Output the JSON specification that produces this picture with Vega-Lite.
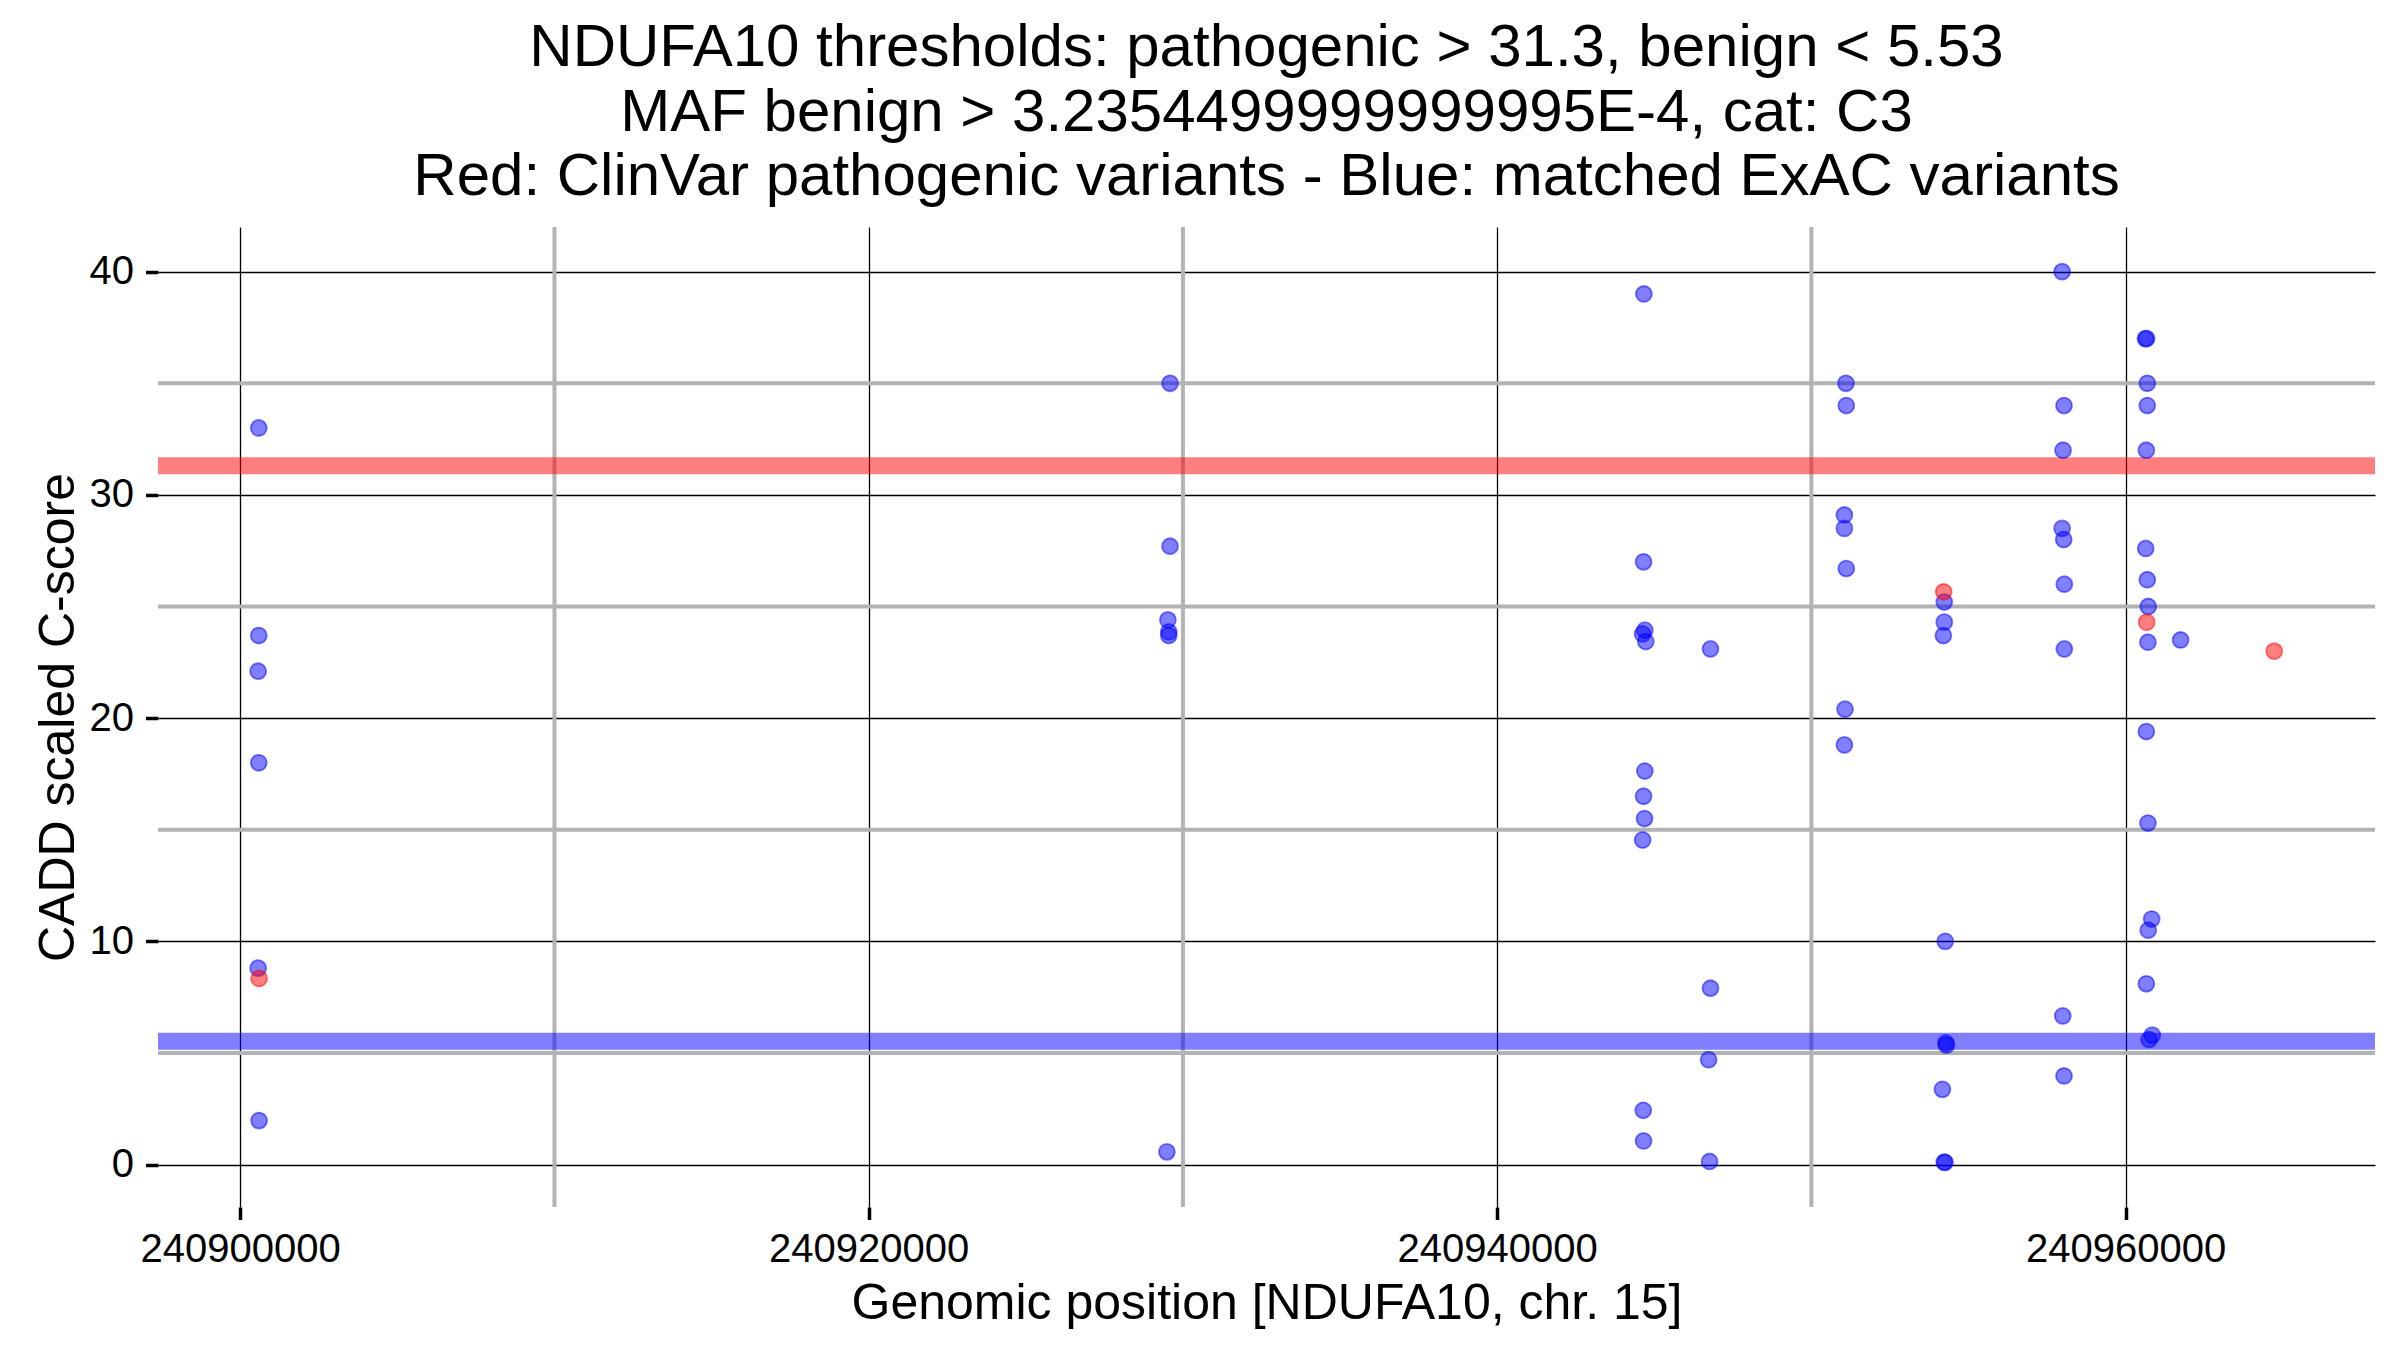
{
  "$schema": "https://vega.github.io/schema/vega-lite/v6.json",
  "width": 2217,
  "height": 980,
  "autosize": {"type": "none"},
  "padding": {"left": 158, "top": 227, "right": 25, "bottom": 143},
  "background": "white",
  "config": {
    "view": {"stroke": null},
    "font": "Liberation Sans",
    "axis": {
      "domain": false,
      "grid": true,
      "gridColor": "black",
      "gridWidth": 1.3,
      "tickColor": "black",
      "tickWidth": 3.5,
      "tickSize": 12.5,
      "labelFont": "Liberation Sans",
      "labelFontSize": 40,
      "labelColor": "black",
      "labelLimit": 0,
      "titleFont": "Liberation Sans",
      "titleFontSize": 50,
      "titleFontWeight": "normal",
      "titleColor": "black",
      "labelFlush": false,
      "labelOverlap": false
    }
  },
  "title": {
    "text": [
      "NDUFA10 thresholds: pathogenic > 31.3, benign < 5.53",
      "MAF benign > 3.2354499999999995E-4, cat: C3",
      "Red: ClinVar pathogenic variants - Blue: matched ExAC variants"
    ],
    "font": "Liberation Sans",
    "fontSize": 60,
    "fontWeight": "normal",
    "color": "black",
    "anchor": "middle",
    "frame": "group",
    "lineHeight": 64.5,
    "offset": 17
  },
  "datasets": {
    "minorx": [{"pos": 240910000}, {"pos": 240930000}, {"pos": 240950000}],
    "minory": [{"score": 5}, {"score": 15}, {"score": 25}, {"score": 35}],
    "thresholds": [
      {"score": 31.3, "kind": "pathogenic"},
      {"score": 5.53, "kind": "benign"}
    ],
    "points": [
      {"pos": 240900590, "score": 33.0, "source": "ExAC"},
      {"pos": 240900590, "score": 23.7, "source": "ExAC"},
      {"pos": 240900570, "score": 22.1, "source": "ExAC"},
      {"pos": 240900590, "score": 18.0, "source": "ExAC"},
      {"pos": 240900570, "score": 8.8, "source": "ExAC"},
      {"pos": 240900600, "score": 1.97, "source": "ExAC"},
      {"pos": 240929590, "score": 35.0, "source": "ExAC"},
      {"pos": 240929590, "score": 27.7, "source": "ExAC"},
      {"pos": 240929520, "score": 24.4, "source": "ExAC"},
      {"pos": 240929550, "score": 23.86, "source": "ExAC"},
      {"pos": 240929550, "score": 23.7, "source": "ExAC"},
      {"pos": 240929490, "score": 0.57, "source": "ExAC"},
      {"pos": 240944670, "score": 39.0, "source": "ExAC"},
      {"pos": 240944660, "score": 27.0, "source": "ExAC"},
      {"pos": 240944700, "score": 23.94, "source": "ExAC"},
      {"pos": 240944630, "score": 23.77, "source": "ExAC"},
      {"pos": 240944730, "score": 23.43, "source": "ExAC"},
      {"pos": 240944700, "score": 17.63, "source": "ExAC"},
      {"pos": 240944660, "score": 16.5, "source": "ExAC"},
      {"pos": 240944690, "score": 15.5, "source": "ExAC"},
      {"pos": 240944630, "score": 14.54, "source": "ExAC"},
      {"pos": 240944650, "score": 2.43, "source": "ExAC"},
      {"pos": 240944660, "score": 1.06, "source": "ExAC"},
      {"pos": 240946790, "score": 23.1, "source": "ExAC"},
      {"pos": 240946790, "score": 7.9, "source": "ExAC"},
      {"pos": 240946730, "score": 4.7, "source": "ExAC"},
      {"pos": 240946760, "score": 0.14, "source": "ExAC"},
      {"pos": 240951100, "score": 35.0, "source": "ExAC"},
      {"pos": 240951110, "score": 34.0, "source": "ExAC"},
      {"pos": 240951050, "score": 29.1, "source": "ExAC"},
      {"pos": 240951050, "score": 28.5, "source": "ExAC"},
      {"pos": 240951110, "score": 26.7, "source": "ExAC"},
      {"pos": 240951070, "score": 20.4, "source": "ExAC"},
      {"pos": 240951050, "score": 18.8, "source": "ExAC"},
      {"pos": 240954230, "score": 25.2, "source": "ExAC"},
      {"pos": 240954230, "score": 24.3, "source": "ExAC"},
      {"pos": 240954200, "score": 23.7, "source": "ExAC"},
      {"pos": 240954260, "score": 10.0, "source": "ExAC"},
      {"pos": 240954280, "score": 5.45, "source": "ExAC"},
      {"pos": 240954300, "score": 5.35, "source": "ExAC"},
      {"pos": 240954170, "score": 3.37, "source": "ExAC"},
      {"pos": 240954230, "score": 0.11, "source": "ExAC"},
      {"pos": 240954250, "score": 0.1, "source": "ExAC"},
      {"pos": 240957980, "score": 40.0, "source": "ExAC"},
      {"pos": 240958040, "score": 34.0, "source": "ExAC"},
      {"pos": 240958010, "score": 32.0, "source": "ExAC"},
      {"pos": 240957980, "score": 28.5, "source": "ExAC"},
      {"pos": 240958030, "score": 28.0, "source": "ExAC"},
      {"pos": 240958050, "score": 26.0, "source": "ExAC"},
      {"pos": 240958050, "score": 23.1, "source": "ExAC"},
      {"pos": 240958000, "score": 6.66, "source": "ExAC"},
      {"pos": 240958040, "score": 3.97, "source": "ExAC"},
      {"pos": 240960630, "score": 37.0, "source": "ExAC"},
      {"pos": 240960670, "score": 37.0, "source": "ExAC"},
      {"pos": 240960690, "score": 35.0, "source": "ExAC"},
      {"pos": 240960690, "score": 34.0, "source": "ExAC"},
      {"pos": 240960660, "score": 32.0, "source": "ExAC"},
      {"pos": 240960640, "score": 27.6, "source": "ExAC"},
      {"pos": 240960690, "score": 26.2, "source": "ExAC"},
      {"pos": 240960720, "score": 25.0, "source": "ExAC"},
      {"pos": 240960710, "score": 23.4, "source": "ExAC"},
      {"pos": 240960660, "score": 19.4, "source": "ExAC"},
      {"pos": 240960710, "score": 15.3, "source": "ExAC"},
      {"pos": 240960830, "score": 11.0, "source": "ExAC"},
      {"pos": 240960720, "score": 10.5, "source": "ExAC"},
      {"pos": 240960660, "score": 8.1, "source": "ExAC"},
      {"pos": 240960850, "score": 5.8, "source": "ExAC"},
      {"pos": 240960750, "score": 5.6, "source": "ExAC"},
      {"pos": 240961750, "score": 23.5, "source": "ExAC"},
      {"pos": 240900600, "score": 8.34, "source": "ClinVar"},
      {"pos": 240954210, "score": 25.66, "source": "ClinVar"},
      {"pos": 240960670, "score": 24.3, "source": "ClinVar"},
      {"pos": 240964730, "score": 23.0, "source": "ClinVar"}
    ]
  },
  "layer": [
    {
      "data": {"name": "minorx"},
      "mark": {"type": "rule", "color": "#b3b3b3", "strokeWidth": 4},
      "encoding": {
        "x": {"field": "pos", "type": "quantitative", "title": "Genomic position [NDUFA10, chr. 15]",
              "scale": {"domain": [240897383, 240967937], "nice": false, "zero": false}}
      }
    },
    {
      "data": {"name": "minory"},
      "mark": {"type": "rule", "color": "#b3b3b3", "strokeWidth": 4},
      "encoding": {
        "y": {"field": "score", "type": "quantitative", "title": "CADD scaled C-score",
              "scale": {"domain": [-1.9, 42.0], "nice": false, "zero": false}}
      }
    },
    {
      "data": {"name": "thresholds"},
      "mark": {"type": "rule", "strokeWidth": 17, "opacity": 0.5},
      "encoding": {
        "y": {"field": "score", "type": "quantitative", "title": "CADD scaled C-score",
              "scale": {"domain": [-1.9, 42.0], "nice": false, "zero": false}},
        "color": {"field": "kind", "type": "nominal",
                  "scale": {"domain": ["pathogenic", "benign"], "range": ["#ff0000", "#0000ff"]},
                  "legend": null}
      }
    },
    {
      "data": {"name": "points"},
      "mark": {"type": "point", "shape": "circle", "filled": false, "size": 255,
               "fillOpacity": 0.5, "strokeOpacity": 0.5, "strokeWidth": 1.8},
      "encoding": {
        "x": {"field": "pos", "type": "quantitative", "title": "Genomic position [NDUFA10, chr. 15]",
              "scale": {"domain": [240897383, 240967937], "nice": false, "zero": false},
              "axis": {"values": [240900000, 240920000, 240940000, 240960000], "format": "d",
                       "labelPadding": 10, "titlePadding": 9}},
        "y": {"field": "score", "type": "quantitative", "title": "CADD scaled C-score",
              "scale": {"domain": [-1.9, 42.0], "nice": false, "zero": false},
              "axis": {"values": [0, 10, 20, 30, 40], "labelPadding": 12, "titlePadding": 6}},
        "fill": {"field": "source", "type": "nominal",
                 "scale": {"domain": ["ExAC", "ClinVar"], "range": ["#0000ff", "#ff0000"]},
                 "legend": null},
        "stroke": {"field": "source", "type": "nominal",
                   "scale": {"domain": ["ExAC", "ClinVar"], "range": ["#0000ff", "#ff0000"]},
                   "legend": null}
      }
    }
  ]
}
